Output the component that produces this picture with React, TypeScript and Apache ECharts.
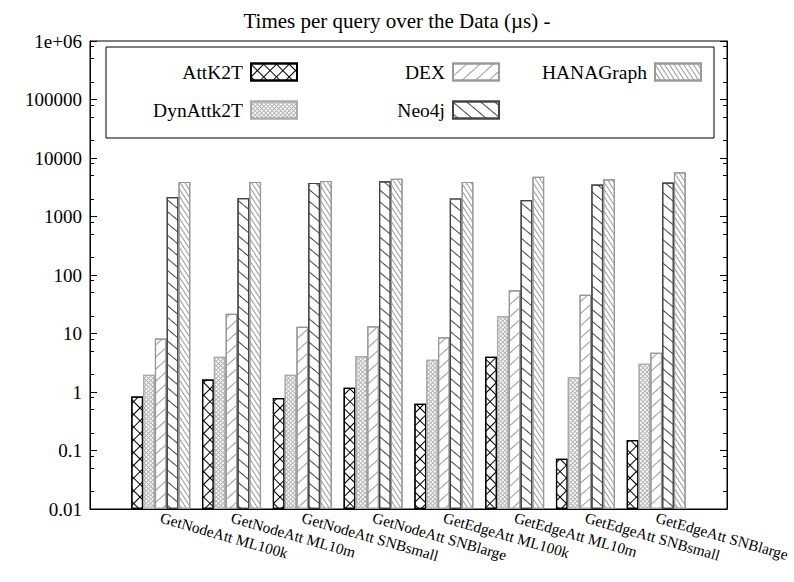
import React, { useEffect, useRef } from "react";
import * as echarts from "echarts";

const categories = [
  "GetNodeAtt ML100k",
  "GetNodeAtt ML10m",
  "GetNodeAtt SNBsmall",
  "GetNodeAtt SNBlarge",
  "GetEdgeAtt ML100k",
  "GetEdgeAtt ML10m",
  "GetEdgeAtt SNBsmall",
  "GetEdgeAtt SNBlarge",
];
const seriesNames = ["AttK2T", "DynAttk2T", "DEX", "Neo4j", "HANAGraph"];
const attK2T = [0.84, 1.64, 0.79, 1.18, 0.63, 4.0, 0.072, 0.151];
const dynAttk2T = [1.97, 4.0, 1.97, 4.12, 3.57, 19.8, 1.8, 3.05];
const dex = [8.2, 21.7, 13.0, 13.3, 8.6, 54.6, 45.9, 4.71];
const neo4j = [2158, 2075, 3750, 4000, 2040, 1916, 3510, 3800];
const hanaGraph = [3900, 3900, 4060, 4400, 3900, 4760, 4330, 5700];
const yTickLabels = ["0.01", "0.1", "1", "10", "100", "1000", "10000", "100000", "1e+06"];
const minorMultipliers = [2, 5, 8];
const titleText = "Times per query over the Data (\u00b5s) -";

const FONT = "Liberation Serif";

export default function App() {
  const ref = useRef<HTMLDivElement>(null);
  useEffect(() => {
    const chart = echarts.init(ref.current!, null, { renderer: "svg" });

    const minorTickValues: number[] = [];
    for (let e = -2; e < 6; e++) {
      for (const m of minorMultipliers) minorTickValues.push(m * Math.pow(10, e));
    }

    const hatch = (color: string, gap: number, rotation: number) => ({
      symbol: "rect",
      symbolSize: 1,
      color,
      dashArrayX: [10, 0],
      dashArrayY: [1, gap],
      rotation,
    });
    const crossHatch = (color: string, cell: number) => ({
      symbol: "rect",
      symbolSize: 1,
      color,
      dashArrayY: [1, 0, cell, 0],
      dashArrayX: [
        [cell + 1, 0],
        [1, cell],
      ],
      rotation: Math.PI / 4,
    });

    const deg = Math.PI / 180;
    const decals = [
      crossHatch("#000000", 8),
      crossHatch("#b4b4b4", 2),
      hatch("#9a9a9a", 8, -42 * deg),
      hatch("#444444", 8, 40 * deg),
      hatch("#9a9a9a", 3, 57 * deg),
    ];
    const borders = ["#000000", "#aaaaaa", "#999999", "#444444", "#999999"];
    const values = [attK2T, dynAttk2T, dex, neo4j, hanaGraph];

    const series = seriesNames.map((name, k) => ({
      name,
      type: "bar",
      xAxisIndex: 0,
      yAxisIndex: 0,
      data: values[k].map((v, i) => [i, v]),
      barWidth: 11.8,
      barGap: "0%",
      itemStyle: {
        color: "#ffffff",
        borderColor: borders[k],
        borderWidth: 1.2,
        decal: decals[k],
      },
      emphasis: { disabled: true },
    }));

    const yLabel = (v: number) => yTickLabels[Math.round(Math.log10(v)) + 2] ?? "";

    const baseY = {
      type: "log",
      logBase: 10,
      min: 0.01,
      max: 1e6,
      splitNumber: 8,
      startValue: 0.01,
      splitLine: { show: false },
    };

    const legendCommon = {
      orient: "vertical",
      align: "right",
      padding: 0,
      itemWidth: 46,
      itemHeight: 17,
      itemGap: 18,
      icon: "rect",
      selectedMode: false,
      textStyle: { fontFamily: FONT, fontSize: 19.5, color: "#000", padding: [0, 3, 0, 0] },
    };

    chart.setOption({
      animation: false,
      backgroundColor: "#ffffff",
      title: {
        text: titleText,
        left: "center",
        top: 5,
        padding: [5, 0, 5, 10],
        textStyle: { fontFamily: FONT, fontSize: 21, fontWeight: "normal", color: "#000" },
      },
      grid: {
        left: 90,
        top: 41,
        width: 637,
        height: 468,
        outerBoundsMode: "none",
        containLabel: false,
        show: true,
        borderColor: "#000",
        borderWidth: 1,
        backgroundColor: "transparent",
      },
      legend: [
        { ...legendCommon, data: ["AttK2T", "DynAttk2T"], right: 496, top: 62 },
        { ...legendCommon, data: ["DEX", "Neo4j"], right: 294, top: 62 },
        { ...legendCommon, data: ["HANAGraph"], right: 92, top: 62 },
      ],
      graphic: [
        {
          type: "rect",
          shape: { x: 106, y: 47, width: 608, height: 91 },
          style: { fill: "none", stroke: "#000", lineWidth: 1 },
          silent: true,
        },
      ],
      xAxis: {
        type: "value",
        min: -1,
        max: 8,
        interval: 1,
        axisLine: { show: true, onZero: false, lineStyle: { color: "#000" } },
        axisTick: { show: false },
        splitLine: { show: false },
        axisLabel: {
          rotate: -16,
          margin: 8,
          fontFamily: FONT,
          fontSize: 15.3,
          color: "#000",
          hideOverlap: false,
          formatter: (v: number) => categories[v] ?? "",
        },
      },
      yAxis: [
        {
          ...baseY,
          position: "left",
          axisLine: { show: true, onZero: false, lineStyle: { color: "#000" } },
          axisTick: { show: true, inside: true, length: 7, lineStyle: { color: "#000" } },
          axisLabel: { fontFamily: FONT, fontSize: 19, color: "#000", margin: 8, formatter: yLabel },
        },
        {
          ...baseY,
          position: "left",
          axisLine: { show: false, onZero: false },
          axisTick: { show: true, inside: true, length: 4, customValues: minorTickValues, lineStyle: { color: "#000" } },
          axisLabel: { show: false },
        },
        {
          ...baseY,
          position: "right",
          axisLine: { show: true, onZero: false, lineStyle: { color: "#000" } },
          axisTick: { show: true, inside: true, length: 7, lineStyle: { color: "#000" } },
          axisLabel: { show: false },
        },
        {
          ...baseY,
          position: "right",
          axisLine: { show: false, onZero: false },
          axisTick: { show: true, inside: true, length: 4, customValues: minorTickValues, lineStyle: { color: "#000" } },
          axisLabel: { show: false },
        },
      ],
      series,
    });

    return () => chart.dispose();
  }, []);
  return <div ref={ref} style={{ position: "fixed", left: 0, top: 0, width: 794, height: 582 }} />;
}
